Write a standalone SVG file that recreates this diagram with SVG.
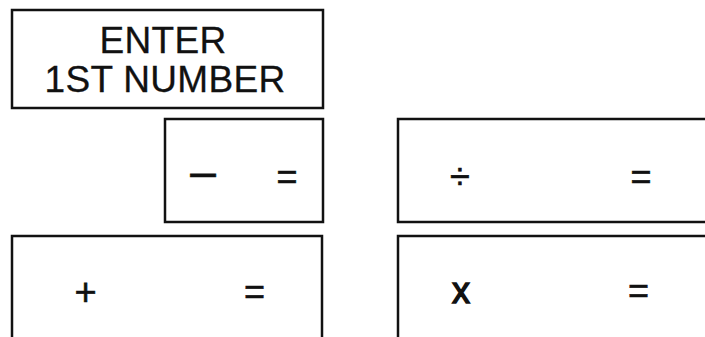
<svg xmlns="http://www.w3.org/2000/svg" width="705" height="337" viewBox="0 0 705 337">
<style>
.box{fill:#fff;stroke:#111;stroke-width:2.5}
.t{font-family:"Liberation Sans",Arial,sans-serif;fill:#111;text-anchor:middle;stroke:#111;stroke-width:0.3}
.big{font-size:37px;letter-spacing:0.3px}
.sym{font-size:36px;stroke-width:0.6}
</style>
<rect width="705" height="337" fill="#fff"/>
<g id="connectors"/>
<g id="enter">
<rect class="box" x="12" y="10" width="311" height="98"/>
<text class="t big" x="163" y="53">ENTER</text>
<text class="t big" x="165" y="92">1ST NUMBER</text>
</g>
<g id="minus">
<rect class="box" x="165" y="119" width="158" height="103"/>
<text class="t" x="203" y="187" style="font-size:46px;stroke-width:0.6">–</text>
<text class="t sym" x="287" y="189">=</text>
</g>
<g id="divide">
<rect class="box" x="398" y="119" width="330" height="103"/>
<text class="t sym" x="460" y="189">÷</text>
<text class="t sym" x="641" y="189">=</text>
</g>
<g id="plus">
<rect class="box" x="12" y="236" width="310" height="120"/>
<text class="t sym" x="85.5" y="305" style="font-size:38px">+</text>
<text class="t sym" x="254.5" y="304">=</text>
</g>
<g id="times">
<rect class="box" x="398" y="236" width="330" height="120"/>
<text class="t sym" x="461" y="303" style="stroke-width:1.4">x</text>
<text class="t sym" x="638.5" y="303">=</text>
</g>
</svg>
